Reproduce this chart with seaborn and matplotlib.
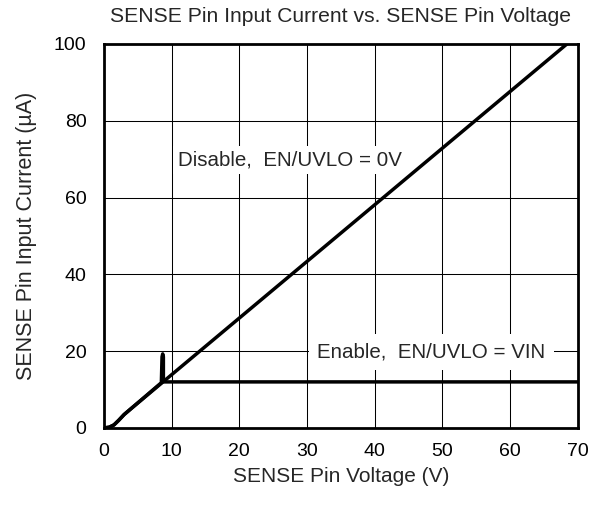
import numpy as np
import pandas as pd
import matplotlib
matplotlib.use('Agg')
import matplotlib.pyplot as plt
import seaborn as sns

# ========== DATA ==========
disable_v = [0.0, 0.8, 1.5, 2.2, 3.0, 4.0, 68.4]
disable_i = [0.0, 0.2, 0.8, 2.0, 3.5, 5.0, 100.0]

enable_v = [0.0, 0.8, 1.5, 2.2, 3.0, 4.0, 8.5, 8.6, 8.7, 8.8, 8.8, 10.0, 70.0]
enable_i = [0.0, 0.2, 0.8, 2.0, 3.5, 5.0, 11.8, 18.5, 19.3, 18.5, 12.0, 12.0, 12.0]

x_ticks = [0, 10, 20, 30, 40, 50, 60, 70]
y_ticks = [0, 20, 40, 60, 80, 100]

# ========== STYLE ==========
sns.set_style("white")
plt.rcParams['font.family'] = ['Liberation Sans', 'DejaVu Sans']

fig = plt.figure(figsize=(6, 5.05), dpi=100)
ax = fig.add_axes([0.173, 0.1525, 0.79, 0.7605])

df_dis = pd.DataFrame({'v': disable_v, 'i': disable_i})
df_en = pd.DataFrame({'v': enable_v, 'i': enable_i})
sns.lineplot(data=df_dis, x='v', y='i', ax=ax, color='black', lw=2.5,
             sort=False, estimator=None, zorder=3)
sns.lineplot(data=df_en, x='v', y='i', ax=ax, color='black', lw=2.5,
             sort=False, estimator=None, zorder=3)

ax.set_xlim(0, 70)
ax.set_ylim(0, 100)
ax.set_xticks(x_ticks)
ax.set_yticks(y_ticks)
ax.grid(True, color='black', lw=0.75)
for s in ax.spines.values():
    s.set_color('black')
    s.set_linewidth(2)
    s.set_zorder(5)
ax.tick_params(axis='both', labelsize=14, length=0, colors='black')
ax.tick_params(axis='x', pad=11)
ax.tick_params(axis='y', pad=12.5)

ax.set_title('SENSE Pin Input Current vs. SENSE Pin Voltage', fontsize=15.2, pad=16)
ax.set_xlabel('SENSE Pin Voltage (V)', fontsize=15, labelpad=5)
ax.set_ylabel('SENSE Pin Input Current (µA)', fontsize=15.5, labelpad=12)

ax.text(10.9, 69.8, 'Disable,  EN/UVLO = 0V', fontsize=14.8, va='center', ha='left',
        bbox=dict(facecolor='white', edgecolor='none', pad=3), zorder=4)
ax.text(31.5, 19.8, 'Enable,  EN/UVLO = VIN', fontsize=14.8, va='center', ha='left',
        bbox=dict(facecolor='white', edgecolor='none', pad=6), zorder=4)

fig.savefig('out.png', dpi=100)
plt.close()
